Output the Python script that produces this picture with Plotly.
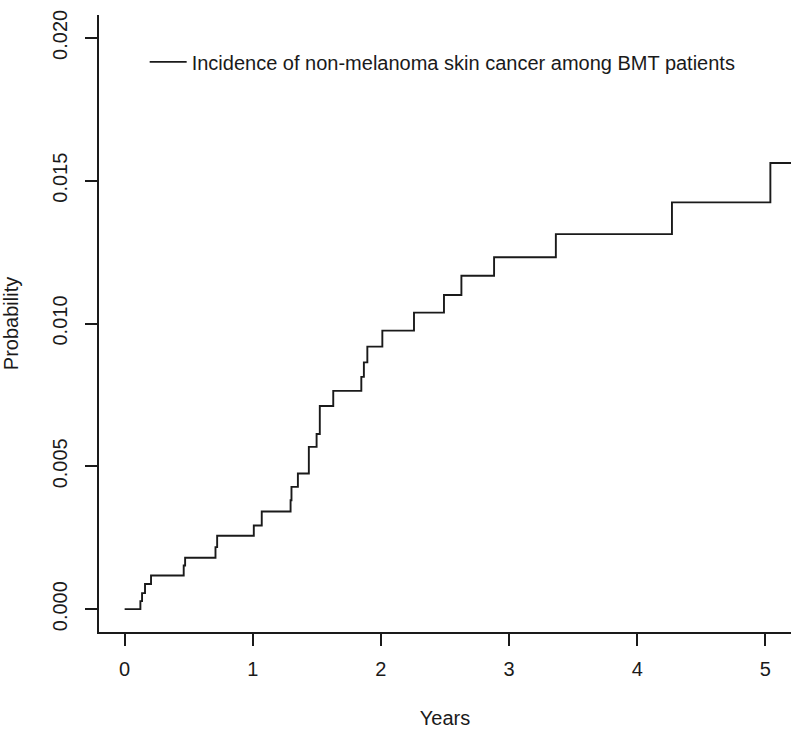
import plotly.graph_objects as go

# Step times (years) and cumulative incidence after each step
years = [0.0, 0.123, 0.136, 0.159, 0.206, 0.461, 0.472, 0.709, 0.722, 1.008, 1.070,
         1.295, 1.302, 1.352, 1.4375, 1.498, 1.523, 1.628, 1.847, 1.867, 1.894,
         2.011, 2.258, 2.492, 2.628, 2.883, 3.365, 4.271, 5.039, 5.2]
probability = [0.0, 0.00028, 0.00056, 0.00088, 0.00118, 0.00153, 0.0018, 0.00217, 0.00257,
               0.00293, 0.00342, 0.00381, 0.00428, 0.00475, 0.00568, 0.00613, 0.00711,
               0.00764, 0.00813, 0.00864, 0.00919, 0.00975, 0.01038, 0.0110, 0.01167,
               0.01232, 0.01313, 0.01424, 0.01562, 0.01562]

x_ticks = [0, 1, 2, 3, 4, 5]
y_ticks = [0.000, 0.005, 0.010, 0.015, 0.020]
y_tick_labels = ["0.000", "0.005", "0.010", "0.015", "0.020"]

series_name = "Incidence of non-melanoma skin cancer among BMT patients"

font_family = "Liberation Sans, Arial, sans-serif"
ink = "#1a1a1a"
fs = 20

fig = go.Figure()
fig.add_trace(go.Scatter(
    x=years, y=probability, mode="lines", line_shape="hv",
    line=dict(color=ink, width=1.9), name=series_name, showlegend=True,
))

fig.update_layout(
    width=800, height=730,
    margin=dict(l=99, r=9, t=15, b=98),
    paper_bgcolor="white", plot_bgcolor="white",
    font=dict(family=font_family, size=fs, color=ink),
    showlegend=True,
    legend=dict(x=0.066, y=0.924, xanchor="left", yanchor="middle",
                bgcolor="rgba(0,0,0,0)", borderwidth=0,
                font=dict(family=font_family, size=fs, color=ink),
                itemwidth=37),
    xaxis=dict(range=[-0.2, 5.2], tickvals=x_ticks, ticks="outside", ticklen=12,
               tickwidth=1.5, tickcolor=ink, showline=True, linecolor=ink, linewidth=1.5,
               showgrid=False, zeroline=False, tickfont=dict(size=fs, color=ink),
               automargin=False, ticklabelstandoff=6,
               title=dict(text="Years", font=dict(size=fs, color=ink), standoff=32)),
    yaxis=dict(range=[-0.0008, 0.0208], tickvals=y_ticks, ticktext=y_tick_labels,
               ticks="outside", ticklen=12, tickwidth=1.5, tickcolor=ink,
               showline=True, linecolor=ink, linewidth=1.5, tickangle=-90,
               showgrid=False, zeroline=False, tickfont=dict(size=fs, color=ink),
               automargin=False, ticklabelstandoff=10,
               title=dict(text="Probability", font=dict(size=fs, color=ink), standoff=27)),
)

fig.write_html("out.html", config={"displayModeBar": False},
               post_script="document.body.style.margin='0';")
